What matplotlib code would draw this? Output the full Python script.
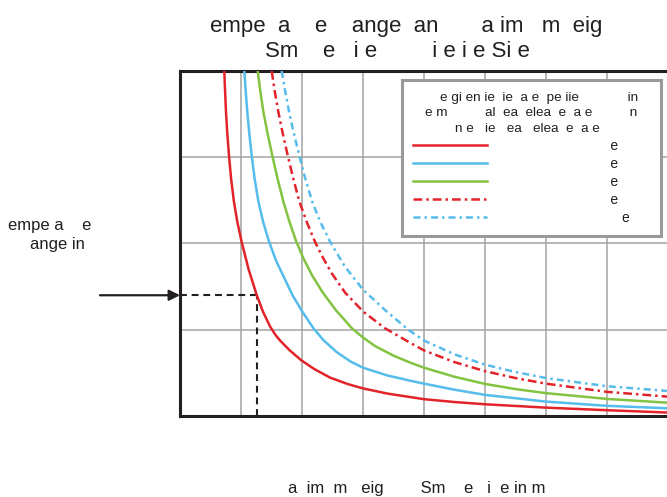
import matplotlib.pyplot as plt

plt.rcParams['font.family'] = 'Liberation Sans'

# ----------------------------------------------------------------------
# Values (one grid cell = one unit, no tick labels)
red_x = [0.726, 0.740, 0.754, 0.776, 0.803, 0.838, 0.883, 0.940, 1.010, 1.125,
         1.257, 1.360, 1.475, 1.56, 1.64, 1.80, 1.99, 2.20, 2.46, 2.75,
         3.00, 3.40, 4.00, 4.50, 5.00, 6.00, 7.00, 8.00]
red_y = [4.00, 3.75, 3.53, 3.27, 3.02, 2.75, 2.49, 2.25, 2.02, 1.70,
         1.403, 1.21, 1.04, 0.945, 0.875, 0.76, 0.645, 0.545, 0.445, 0.37,
         0.32, 0.26, 0.195, 0.162, 0.136, 0.097, 0.067, 0.040]

blue_x = [1.054, 1.079, 1.103, 1.137, 1.175, 1.224, 1.284, 1.363, 1.455, 1.575,
          1.71, 1.845, 2.005, 2.185, 2.35, 2.57, 2.80, 3.00, 3.40, 3.77,
          4.00, 4.50, 5.00, 6.00, 7.00, 8.00]
blue_y = [4.00, 3.75, 3.53, 3.27, 3.02, 2.75, 2.49, 2.25, 2.03, 1.80,
          1.60, 1.40, 1.21, 1.02, 0.88, 0.74, 0.63, 0.56, 0.47, 0.41,
          0.375, 0.305, 0.245, 0.167, 0.118, 0.089]

green_x = [1.274, 1.320, 1.366, 1.437, 1.513, 1.600, 1.693, 1.795, 1.902, 2.022,
           2.166, 2.342, 2.552, 2.814, 3.00, 3.20, 3.50, 3.77, 4.00, 4.50,
           5.00, 5.50, 6.00, 7.00, 8.00]
green_y = [4.00, 3.75, 3.53, 3.27, 3.02, 2.75, 2.49, 2.25, 2.03, 1.83,
           1.63, 1.43, 1.23, 1.02, 0.91, 0.81, 0.70, 0.62, 0.56, 0.455,
           0.372, 0.312, 0.265, 0.198, 0.154]

red_dd_x = [1.503, 1.557, 1.611, 1.686, 1.766, 1.858, 1.955, 2.078, 2.213, 2.340,
            2.487, 2.707, 3.005, 3.361, 3.743, 4.00, 4.50, 5.00, 5.50, 6.00,
            7.00, 8.00]
red_dd_y = [4.00, 3.75, 3.53, 3.27, 3.02, 2.75, 2.49, 2.25, 2.02, 1.84,
            1.655, 1.43, 1.209, 1.017, 0.861, 0.76, 0.625, 0.52, 0.44, 0.375,
            0.28, 0.224]

blue_dd_x = [1.667, 1.729, 1.787, 1.869, 1.955, 2.055, 2.165, 2.300, 2.459, 2.705,
             3.005, 3.361, 3.743, 4.00, 4.50, 5.00, 5.50, 6.00, 7.00, 8.00]
blue_dd_y = [4.00, 3.75, 3.53, 3.27, 3.02, 2.75, 2.49, 2.25, 2.023, 1.731,
             1.461, 1.229, 1.00, 0.875, 0.715, 0.595, 0.51, 0.44, 0.345, 0.29]

# the marked reading on the red curve
marker_x = 1.26
marker_y = 1.40

# texts (as they appear)
title_1 = 'empe  a    e    ange  an       a im   m  eig'
title_2 = 'Sm    e   i e         i e i e Si e'
ylabel_1 = 'empe a    e'
ylabel_2 = 'ange in'
xlabel = 'a  im  m   eig        Sm    e   i  e in m'
legend_title = ('    e gi en ie  ie  a e  pe iie             in\n'
                'e m          al  ea  elea  e  a e          n\n'
                '        n e   ie   ea   elea  e  a e')
legend_labels = [' ' * 29 + 'e', ' ' * 29 + 'e', ' ' * 29 + 'e',
                 ' ' * 29 + 'e', ' ' * 32 + 'e']

# ----------------------------------------------------------------------
c_red = '#e2232a'
c_blue = '#55bceb'
c_green = '#82c341'
c_text = '#231f20'

fig = plt.figure(figsize=(6.67, 4.97), dpi=100)
ax = fig.add_axes([180/667, 81/497, 488/667, 345/497])

curves = [(red_x, red_y, c_red, '-'),
          (blue_x, blue_y, c_blue, '-'),
          (green_x, green_y, c_green, '-'),
          (red_dd_x, red_dd_y, c_red, (0, (3.5, 1.6, 1, 1.6))),
          (blue_dd_x, blue_dd_y, c_blue, (0, (2.8, 1.6, 1, 1.6)))]

for (xs, ys, col, ls), lab in zip(curves, legend_labels):
    ax.plot(xs, ys, color=col, ls=ls, lw=1.8, label=lab, zorder=3)

# dashed guide to the marked reading
ax.plot([0, marker_x], [marker_y, marker_y], color=c_text, lw=1.5,
        dashes=(3.3, 2.3), zorder=2.5)
ax.plot([marker_x, marker_x], [0, marker_y], color=c_text, lw=1.5,
        dashes=(3.3, 2.3), zorder=2.5)
ax.annotate('', xy=(0, marker_y), xytext=(-57.6, 0), textcoords='offset points',
            arrowprops=dict(arrowstyle='-|>', color=c_text, lw=1.6,
                            mutation_scale=16, shrinkA=0, shrinkB=0),
            annotation_clip=False)

ax.set_xlim(0, 8)
ax.set_ylim(0, 4)
ax.set_xticks(range(9))
ax.set_yticks(range(5))
ax.set_axisbelow(True)
ax.grid(True, color='#a3a3a3', lw=1.1)
ax.tick_params(length=0, labelleft=False, labelbottom=False)
for s in ['left', 'top', 'bottom']:
    ax.spines[s].set_linewidth(2.2)
    ax.spines[s].set_color(c_text)
ax.spines['right'].set_visible(False)

leg = ax.legend(title=legend_title, loc='upper left',
                bbox_to_anchor=(0.4539, 0.3, 0.5318, 0.6725), mode='expand',
                borderaxespad=0, fontsize=10, title_fontsize=9.7,
                handlelength=5.33, handletextpad=0.8, labelspacing=0.28,
                borderpad=0.8, fancybox=False, framealpha=1,
                edgecolor='#999999')
leg.get_frame().set_linewidth(2.2)
leg.get_title().set_multialignment('left')
leg.get_title().set_linespacing(1.42)
leg.get_title().set_color(c_text)
for t in leg.get_texts():
    t.set_color(c_text)

# titles and axis captions
fig.text(210/667, 1 - 32/497, title_1, fontsize=16, color=c_text, ha='left', va='baseline')
fig.text(265/667, 1 - 57/497, title_2, fontsize=16, color=c_text, ha='left', va='baseline')
fig.text(8/667, 1 - 230/497, ylabel_1, fontsize=12, color=c_text, ha='left', va='baseline')
fig.text(30/667, 1 - 249/497, ylabel_2, fontsize=12, color=c_text, ha='left', va='baseline')
fig.text(288/667, 1 - 493/497, xlabel, fontsize=12, color=c_text, ha='left', va='baseline')

fig.savefig('out.png', dpi=100)
